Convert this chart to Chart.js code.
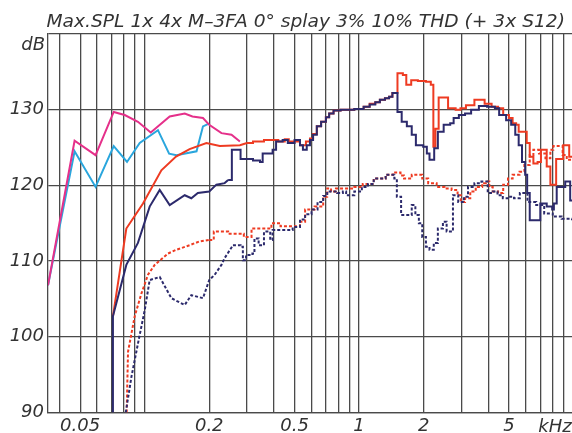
<!DOCTYPE html>
<html>
<head>
<meta charset="utf-8">
<script src="https://cdn.jsdelivr.net/npm/chart.js@4/dist/chart.umd.min.js"></script>
<style>
  html, body { margin: 0; padding: 0; background: #fff; overflow: hidden; }
  canvas { display: block; }
</style>
</head>
<body>
<canvas id="spl" width="572" height="433"></canvas>
<script>
// ---- Frequency axis (kHz) ----
const freqMin = 0.0354;
const freqMax = 9.84;
const gridFreqs = [0.04, 0.05, 0.06, 0.07, 0.08, 0.09,
                   0.1, 0.2, 0.3, 0.4, 0.5, 0.6, 0.7, 0.8, 0.9,
                   1, 2, 3, 4, 5, 6, 7, 8, 9];
const labelledFreqs = [0.05, 0.2, 0.5, 1, 2, 5];

// ---- Level axis (dB) ----
const dbMin = 90;
const dbMax = 140;
const dbStep = 10;

// ---- 4x M-3FA, 10% THD (solid red) ----
const m4x10Freq = [0.0711, 0.0821, 0.0982, 0.1196, 0.14, 0.162, 0.194, 0.224, 0.278,
  0.30, 0.32, 0.36, 0.42, 0.45, 0.47, 0.50, 0.53, 0.565, 0.59, 0.61, 0.635, 0.665, 0.70, 0.725, 0.76, 0.82, 0.95,
  1.05, 1.12, 1.19, 1.25, 1.32, 1.38, 1.43, 1.51, 1.60, 1.66, 1.75, 1.88, 2.05, 2.16, 2.22, 2.27, 2.35, 2.60, 2.82, 2.97,
  3.15, 3.45, 3.85, 4.15, 4.45, 4.7, 5.0, 5.2, 5.4, 5.55, 6.05, 6.25, 6.5, 6.8, 7.05, 7.5, 7.8, 8.3, 8.95, 9.55, 9.84];
const m4x10Db = [102.7, 114.3, 117.6, 122.0, 123.8, 124.8, 125.6, 125.2, 125.3,
  125.6, 125.8, 126.0, 125.8, 126.1, 125.8, 125.8, 125.3, 125.8, 126.2, 126.8, 127.8, 128.4, 129.0, 129.5, 129.9, 130.0, 130.1,
  130.4, 130.8, 131.0, 131.3, 131.5, 131.7, 132.2, 134.8, 134.6, 133.3, 133.9, 133.8, 133.7, 133.3, 125.1, 127.5, 131.6, 130.2, 130.0, 130.2,
  130.6, 131.3, 130.8, 130.4, 130.2, 129.3, 128.9, 128.2, 128.0, 127.1, 125.6, 123.8, 122.9, 123.1, 124.7, 122.5, 120.1, 123.5, 125.3, 123.8, 123.8];
const m4x10StepFrom = 0.30;

// ---- 4x M-3FA, 3% THD (solid navy) ----
const m4x3Freq = [0.0711, 0.0711, 0.0821, 0.093, 0.1055, 0.1175, 0.1308, 0.1537, 0.165, 0.177, 0.2, 0.216, 0.236,
  0.245, 0.255, 0.28, 0.32, 0.345, 0.355, 0.395, 0.41, 0.44, 0.465, 0.50, 0.53, 0.547, 0.57, 0.59, 0.61, 0.635, 0.665,
  0.70, 0.725, 0.76, 0.82, 0.95, 1.05, 1.12, 1.19, 1.25, 1.32, 1.38, 1.43, 1.51, 1.58, 1.67, 1.76, 1.84, 1.99, 2.07,
  2.13, 2.24, 2.33, 2.48, 2.66, 2.76, 2.92, 3.12, 3.33, 3.62, 3.95, 4.3, 4.5, 4.85, 5.12, 5.35, 5.55, 5.75, 5.95,
  6.08, 6.25, 7.0, 7.5, 7.95, 8.1, 8.35, 9.15, 9.65, 9.84];
const m4x3Db = [90, 102.7, 109.5, 112.4, 117.2, 119.4, 117.4, 118.7, 118.3, 119.0, 119.2, 120.1, 120.3,
  120.7, 124.7, 123.5, 123.3, 123.1, 124.2, 124.7, 125.8, 126.0, 125.6, 126.0, 125.3, 124.7, 125.3, 126.0, 126.7, 127.8, 128.4,
  129.0, 129.5, 129.9, 130.0, 130.1, 130.4, 130.7, 131.0, 131.3, 131.5, 131.7, 132.2, 129.7, 128.4, 127.8, 126.7, 125.3, 125.1, 124.2,
  123.4, 124.9, 127.1, 128.0, 128.2, 128.9, 129.3, 129.5, 130.0, 130.5, 130.4, 130.2, 129.3, 128.6, 128.0, 126.7, 125.3, 123.1, 121.4,
  119.0, 115.4, 117.6, 117.2, 116.8, 117.6, 119.8, 120.5, 118.0, 118.0];
const m4x3StepFrom = 0.245;

// ---- 1x M-3FA, 10% THD (dotted red) ----
const m1x10Freq = [0.0824, 0.0836, 0.0898, 0.0965, 0.1036, 0.1113, 0.1285, 0.1406, 0.162, 0.18,
  0.2, 0.21, 0.245, 0.29, 0.315, 0.39, 0.43, 0.53, 0.56, 0.62, 0.68, 0.71, 0.74, 0.78, 0.95, 1.04, 1.17, 1.33, 1.44,
  1.56, 1.62, 1.76, 1.97, 2.1, 2.3, 2.5, 2.7, 2.88, 2.98, 3.12, 3.3, 3.5, 3.75, 3.9, 4.05, 4.2, 4.45, 4.7, 4.95,
  5.2, 5.6, 5.9, 6.25, 6.5, 6.9, 7.4, 7.8, 8.05, 8.9, 9.3, 9.84];
const m1x10Db = [90, 98.0, 102.7, 105.7, 108.2, 109.5, 111.0, 111.5, 112.1, 112.6,
  112.8, 113.9, 113.6, 113.2, 114.3, 115.0, 114.6, 115.2, 116.8, 117.2, 118.5, 119.6, 119.2, 119.6, 119.8, 120.2, 120.9, 121.4, 121.7,
  121.3, 120.9, 121.4, 120.9, 120.3, 119.8, 119.6, 119.4, 118.7, 117.8, 118.3, 119.2, 119.8, 120.3, 120.5, 119.8, 119.2, 119.0, 120.1, 120.9,
  121.4, 121.8, 122.7, 124.0, 124.7, 124.2, 123.6, 124.7, 125.2, 124.0, 123.4, 123.4];
const m1x10StepFrom = 0.2;

// ---- 1x M-3FA, 3% THD (dotted navy) ----
const m1x3Freq = [0.0816, 0.0867, 0.093, 0.1, 0.1055, 0.1175, 0.1332, 0.1537, 0.165, 0.187, 0.2, 0.212, 0.228, 0.236,
  0.258, 0.28, 0.287, 0.297, 0.318, 0.325, 0.34, 0.36, 0.385, 0.395, 0.49, 0.53, 0.56, 0.6, 0.64, 0.68, 0.71, 0.79,
  0.84, 0.87, 0.95, 1.03, 1.1, 1.17, 1.33, 1.46, 1.5, 1.57, 1.76, 1.83, 1.9, 1.97, 2.05, 2.13, 2.23, 2.33, 2.46, 2.56,
  2.74, 2.9, 3.08, 3.22, 3.45, 3.72, 3.98, 4.2, 4.42, 4.68, 5.0, 5.28, 5.62, 6.1, 6.7, 7.3, 8.0, 8.8, 9.84];
const m1x3Db = [90, 94.7, 99.1, 103.5, 107.5, 107.9, 105.1, 104.2, 105.5, 105.1, 107.5, 108.2, 109.5, 110.4,
  112.1, 111.9, 110.1, 110.8, 111.0, 113.0, 112.1, 113.9, 112.8, 114.1, 114.5, 115.5, 116.2, 116.8, 117.8, 118.6, 119.2, 119.0,
  119.2, 118.7, 119.2, 119.8, 120.2, 120.9, 121.4, 120.9, 118.5, 116.1, 117.4, 116.1, 115.0, 113.2, 111.9, 111.5, 112.4, 114.3, 115.2, 113.9,
  118.7, 117.8, 118.5, 119.8, 120.3, 120.5, 119.0, 119.2, 118.7, 118.3, 118.5, 118.3, 119.0, 117.8, 117.4, 116.3, 115.9, 115.6, 115.4];
const m1x3StepFrom = 0.258;

// ---- 3x S12, 10% THD (magenta) ----
const s12x10Freq = [0.0354, 0.0471, 0.059, 0.0717, 0.0807, 0.093, 0.1067, 0.1308, 0.1537, 0.167, 0.187, 0.2, 0.228, 0.254, 0.278];
const s12x10Db   = [106.8, 125.9, 124.0, 129.7, 129.3, 128.4, 127.0, 129.1, 129.5, 129.1, 128.9, 128.0, 126.9, 126.7, 125.8];

// ---- 3x S12, 3% THD (cyan) ----
const s12x3Freq = [0.0354, 0.0471, 0.059, 0.0717, 0.0827, 0.0948, 0.1153, 0.13, 0.1406, 0.1745, 0.187, 0.197];
const s12x3Db   = [106.8, 124.5, 119.8, 125.2, 123.1, 125.6, 127.3, 124.2, 124.0, 124.5, 127.8, 128.1];

// ---- Styling ----
const RED = '#ee3b22';
const NAVY = '#2c2a6c';
const MAGENTA = '#e5308a';
const CYAN = '#2aa6dd';
const GRID = '#4a4a4a';
const INK = '#333333';
const FONT_FAMILY = '"DejaVu Sans", "Liberation Sans", sans-serif';

function toPoints(freq, db) {
  return freq.map((f, i) => ({ x: f, y: db[i] }));
}

// Curves run as straight segments at low frequency and as 1/n-octave steps above stepFrom.
function curveDatasets(freq, db, stepFrom, color, dotted) {
  const pts = toPoints(freq, db);
  const smooth = pts.filter(p => p.x <= stepFrom);
  const steps = pts.filter(p => p.x >= stepFrom);
  const base = {
    borderColor: color,
    borderWidth: 2,
    borderDash: dotted ? [3, 2] : [],
    pointRadius: 0,
    tension: 0,
    fill: false,
    borderJoinStyle: 'miter'
  };
  const out = [];
  if (steps.length > 1) out.push(Object.assign({}, base, { data: steps, stepped: 'before' }));
  if (smooth.length > 1) out.push(Object.assign({}, base, { data: smooth, stepped: false }));
  return out;
}

// Earlier datasets are drawn on top.
const datasets = [
  ...curveDatasets(m4x3Freq, m4x3Db, m4x3StepFrom, NAVY, false),
  ...curveDatasets(m4x10Freq, m4x10Db, m4x10StepFrom, RED, false),
  ...curveDatasets(s12x10Freq, s12x10Db, Infinity, MAGENTA, false),
  ...curveDatasets(s12x3Freq, s12x3Db, Infinity, CYAN, false),
  ...curveDatasets(m1x3Freq, m1x3Db, m1x3StepFrom, NAVY, true),
  ...curveDatasets(m1x10Freq, m1x10Db, m1x10StepFrom, RED, true)
];

const TITLE = 'Max.SPL 1x 4x M\u20133FA 0\u00b0 splay 3% 10% THD (+ 3x S12)';

const annotations = {
  id: 'annotations',
  afterDraw(chart) {
    const { ctx, chartArea } = chart;
    ctx.save();
    ctx.fillStyle = INK;
    ctx.font = 'italic 18px ' + FONT_FAMILY;
    ctx.textBaseline = 'alphabetic';

    // title, fitted to the plot width
    const titleLeft = 46.5, titleRight = 565;
    const w = ctx.measureText(TITLE).width;
    ctx.save();
    ctx.translate(titleLeft, 27);
    ctx.scale((titleRight - titleLeft) / w, 1);
    ctx.textAlign = 'left';
    ctx.fillText(TITLE, 0, 0);
    ctx.restore();

    // axis units
    ctx.textAlign = 'right';
    ctx.fillText('dB', chartArea.left - 3, 50);
    ctx.textAlign = 'center';
    ctx.fillText('kHz', 555, 432);
    ctx.restore();
  }
};

new Chart(document.getElementById('spl'), {
  type: 'line',
  data: { datasets },
  plugins: [annotations],
  options: {
    responsive: false,
    animation: false,
    devicePixelRatio: 1,
    layout: { padding: { top: 34, left: 0, right: 0, bottom: 0 } },
    plugins: {
      legend: { display: false },
      title: { display: false },
      tooltip: { enabled: false }
    },
    scales: {
      x: {
        type: 'logarithmic',
        min: freqMin,
        max: freqMax,
        afterBuildTicks(scale) {
          scale.ticks = gridFreqs.map(v => ({ value: v }));
        },
        afterFit(scale) { scale.height = 20.5; },
        ticks: {
          autoSkip: false,
          maxRotation: 0,
          minRotation: 0,
          padding: 3,
          color: INK,
          font: { family: FONT_FAMILY, style: 'italic', size: 18 },
          callback(value) {
            const hit = labelledFreqs.find(f => Math.abs(f - value) < 1e-9);
            return hit === undefined ? '' : String(hit);
          }
        },
        grid: { color: GRID, lineWidth: 1.3, drawTicks: false },
        border: { color: GRID, width: 1.3 }
      },
      y: {
        type: 'linear',
        min: dbMin,
        max: dbMax,
        afterFit(scale) { scale.width = 48; },
        ticks: {
          stepSize: dbStep,
          padding: 4,
          color: INK,
          font: { family: FONT_FAMILY, style: 'italic', size: 18 },
          callback(value) { return value === dbMax ? '' : String(value); }
        },
        grid: { color: GRID, lineWidth: 1.3, drawTicks: false },
        border: { color: GRID, width: 1.3 }
      }
    }
  }
});
</script>
</body>
</html>
